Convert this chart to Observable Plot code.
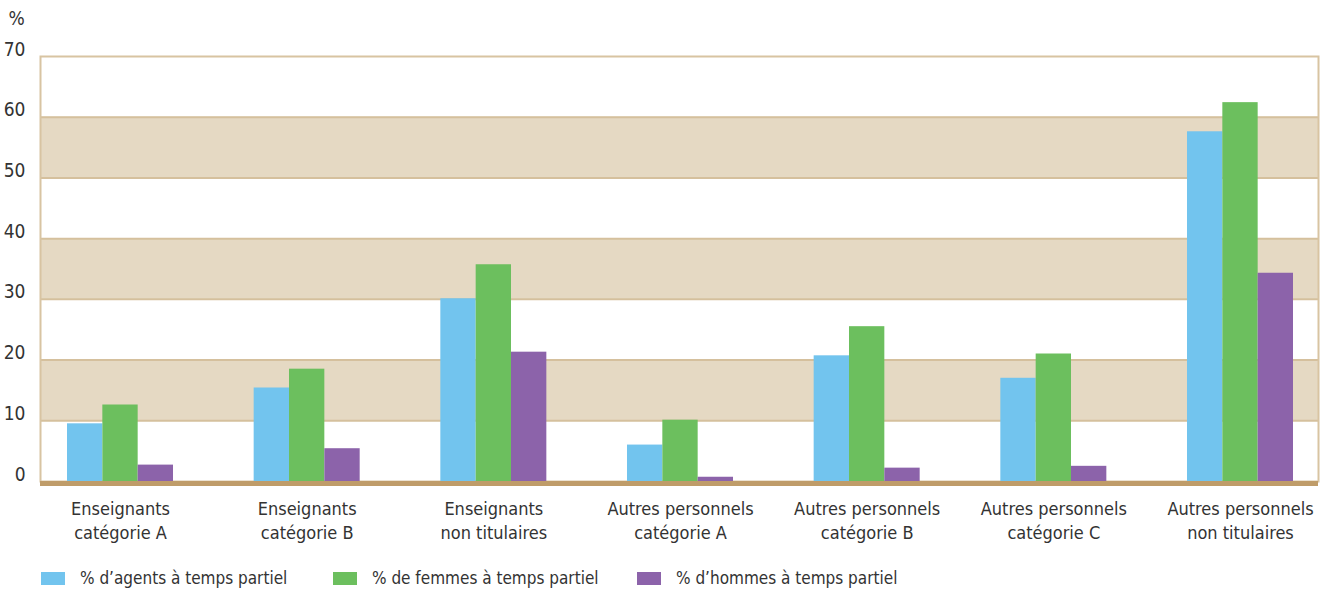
<!DOCTYPE html>
<html>
<head>
<meta charset="utf-8">
<script src="https://cdn.jsdelivr.net/npm/d3@7"></script>
<script src="https://cdn.jsdelivr.net/npm/@observablehq/plot@0.6"></script>
<style>
  body { margin: 0; background: #fff; }
  #wrap { position: relative; width: 1335px; height: 589px; font-family: 'Liberation Sans Narrow', 'DejaVu Sans Condensed', 'Liberation Sans', sans-serif; font-stretch: condensed; color: #333; }
  #legend { position: absolute; left: 0; top: 565px; width: 1335px; height: 26px; font-size: 17px; }
  .item { position: absolute; top: 0; display: flex; align-items: center; height: 26px; white-space: nowrap; }
  .sw { width: 24px; height: 13px; margin-right: 15px; }
</style>
</head>
<body>
<div id="wrap">
  <div id="chart"></div>
  <div id="legend"></div>
</div>
<script>
const categories = [
  "Enseignants\ncatégorie A",
  "Enseignants\ncatégorie B",
  "Enseignants\nnon titulaires",
  "Autres personnels\ncatégorie A",
  "Autres personnels\ncatégorie B",
  "Autres personnels\ncatégorie C",
  "Autres personnels\nnon titulaires"
];
const agents = [9.5, 15.4, 30.1, 6.0, 20.7, 17.0, 57.6];
const femmes = [12.6, 18.5, 35.7, 10.1, 25.5, 21.0, 62.4];
const hommes = [2.7, 5.4, 21.3, 0.7, 2.2, 2.5, 34.3];
const seriesNames = [
  "% d’agents à temps partiel",
  "% de femmes à temps partiel",
  "% d’hommes à temps partiel"
];
const seriesColors = ["#72c4ee", "#6cbf5e", "#8c63aa"];
const yTicks = [0, 10, 20, 30, 40, 50, 60, 70];
const shadedBands = [[10, 20], [30, 40], [50, 60]];
const gridValues = [10, 20, 30, 40, 50, 60];

const rows = (vals) => categories.map((c, i) => ({cat: c, v: vals[i]}));
const fontFamily = "'Liberation Sans Narrow', 'DejaVu Sans Condensed', 'Liberation Sans', sans-serif";

const plot = Plot.plot({
  width: 1335,
  height: 560,
  marginTop: 56,
  marginBottom: 79,
  marginLeft: 40,
  marginRight: 17,
  style: {fontFamily, fontSize: "18px", fontStretch: "condensed", color: "#333", background: "#fff"},
  x: {domain: categories, range: [26.67, 1333.33], padding: 0, round: false},
  y: {domain: [0, 70]},
  marks: [
    Plot.rectY(shadedBands, {y1: d => d[0], y2: d => d[1], fill: "#e5d9c3"}),
    Plot.ruleY(gridValues, {stroke: "#d5c09d", strokeWidth: 2}),
    Plot.frame({stroke: "#d8c4a2", strokeWidth: 2}),
    Plot.barY(rows(agents), {x: "cat", y: "v", fill: seriesColors[0], insetLeft: 40.33, insetRight: 111}),
    Plot.barY(rows(femmes), {x: "cat", y: "v", fill: seriesColors[1], insetLeft: 75.67, insetRight: 75.67}),
    Plot.barY(rows(hommes), {x: "cat", y: "v", fill: seriesColors[2], insetLeft: 111, insetRight: 40.33}),
    Plot.ruleY([0], {stroke: "#bf9c69", strokeWidth: 5, dy: 2}),
    Plot.axisY({ticks: yTicks, tickSize: 0, tickPadding: 15, dy: -7, label: null, fontSize: 19, fill: "#333"}),
    Plot.axisX({tickSize: 0, tickPadding: 17, label: null, fontSize: 18, lineHeight: 1.3, fill: "#333"}),
    Plot.text(["%"], {frameAnchor: "top-left", textAnchor: "middle", lineAnchor: "middle", dx: -24, dy: -38, fontSize: 19, fill: "#333"})
  ]
});
document.getElementById("chart").appendChild(plot);

const legend = document.getElementById("legend");
const lefts = [41, 333, 637];
seriesNames.forEach((name, i) => {
  const item = document.createElement("div");
  item.className = "item";
  item.style.left = lefts[i] + "px";
  const sw = document.createElement("span");
  sw.className = "sw";
  sw.style.background = seriesColors[i];
  const t = document.createElement("span");
  t.textContent = name;
  item.appendChild(sw);
  item.appendChild(t);
  legend.appendChild(item);
});
</script>
</body>
</html>
